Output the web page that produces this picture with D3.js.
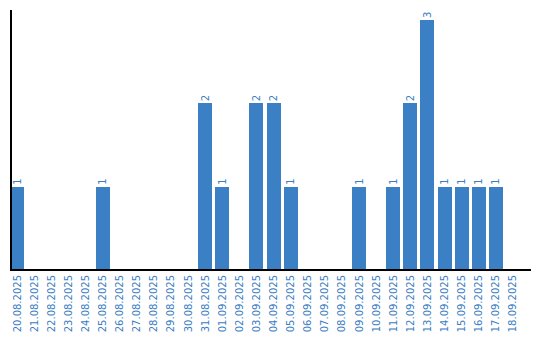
<!DOCTYPE html>
<html>
<head>
<meta charset="utf-8">
<script src="https://cdn.jsdelivr.net/npm/d3@7"></script>
<style>
body { margin: 0; background: #fff; }
text { font-family: "DejaVu Sans", Verdana, sans-serif; font-size: 10px; fill: #3a7dc2; }
</style>
</head>
<body>
<script>
var days = ["20.08.2025","21.08.2025","22.08.2025","23.08.2025","24.08.2025","25.08.2025",
	"26.08.2025","27.08.2025","28.08.2025","29.08.2025","30.08.2025","31.08.2025",
	"01.09.2025","02.09.2025","03.09.2025","04.09.2025","05.09.2025","06.09.2025",
	"07.09.2025","08.09.2025","09.09.2025","10.09.2025","11.09.2025","12.09.2025",
	"13.09.2025","14.09.2025","15.09.2025","16.09.2025","17.09.2025","18.09.2025"];
var counts = [1,0,0,0,0,1,0,0,0,0,0,2,1,0,2,2,1,0,0,0,1,0,1,2,3,1,1,1,1,0];

function makeBarchart() {
	var width = 540;
	var height = 340;
	var left = 10, base = 270;

	var svg = d3.select("body").append("svg")
		.attr("width", width).attr("height", height);

	var xScale = d3.scaleBand()
		.domain(days).range([left, left + days.length * 17])
		.paddingInner(3 / 17).paddingOuter(0).align(0);

	var yScale = d3.scaleLinear()
		.domain([0, 3]).range([base, 20]);

	var data = days.map(function(d, i) { return {day: d, n: counts[i]}; });
	var shown = data.filter(function(d) { return d.n > 0; });

	svg.selectAll("rect").data(shown).enter().append("rect")
		.attr("x", function(d) { return xScale(d.day); })
		.attr("y", function(d) { return yScale(d.n); })
		.attr("width", xScale.bandwidth())
		.attr("height", function(d) { return base - yScale(d.n); })
		.attr("fill", "#3b7fc4")
		.attr("shape-rendering", "crispEdges");

	svg.selectAll(".val").data(shown).enter().append("text")
		.attr("class", "val")
		.attr("transform", function(d) {
			return "translate(" + (xScale(d.day) + xScale.bandwidth() / 2 + 3.5) + "," + (yScale(d.n) - 2) + ") rotate(-90)";
		})
		.text(function(d) { return d.n; });

	var xAxis = d3.axisBottom(xScale).tickSize(0).tickPadding(0);
	var gx = svg.append("g").attr("transform", "translate(0," + base + ")").call(xAxis);
	gx.select(".domain").remove();
	gx.selectAll("text")
		.attr("transform", "rotate(-90)")
		.attr("x", -5).attr("y", 0).attr("dy", "0.35em")
		.style("text-anchor", "end")
		.attr("fill", null);

	svg.append("line").attr("x1", left).attr("x2", 531).attr("y1", base).attr("y2", base)
		.attr("stroke", "#000").attr("stroke-width", 2).attr("shape-rendering", "crispEdges");
	svg.append("line").attr("x1", left + 1).attr("x2", left + 1).attr("y1", 10).attr("y2", base)
		.attr("stroke", "#000").attr("stroke-width", 2).attr("shape-rendering", "crispEdges");
}

makeBarchart();
</script>
</body>
</html>
